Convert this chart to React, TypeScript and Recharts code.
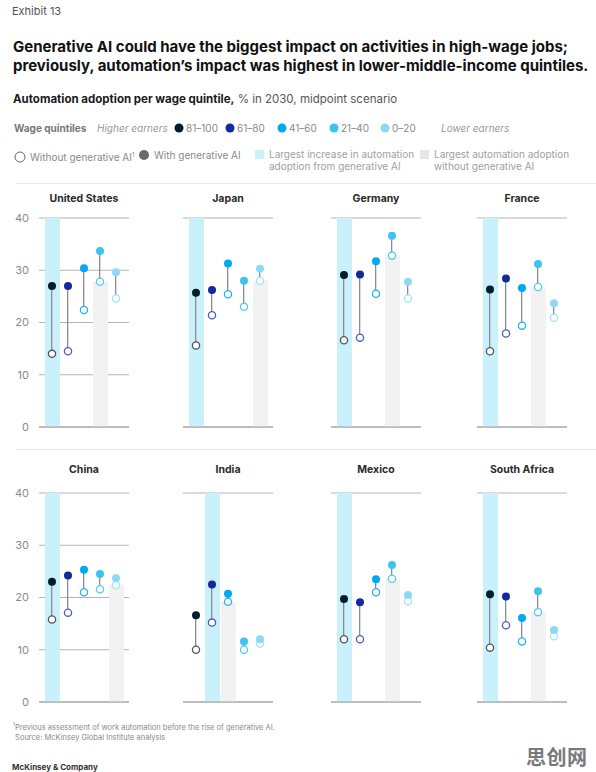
import React from 'react';
import { ComposedChart, Bar, Line, XAxis, YAxis, CartesianGrid, Cell, ReferenceLine } from 'recharts';

// Wage quintiles, highest earners first
const QUINTILES = ['81–100', '61–80', '41–60', '21–40', '0–20'];
const FILL_COLORS = ['#051c2c', '#13299c', '#00a9f4', '#3cc3f0', '#8cd9f6'];
const RING_COLORS = ['#4f5660', '#4e5dbb', '#21b2f0', '#56cbf1', '#a3e2f7'];
const Y_TICKS = [0, 10, 20, 30, 40];

const COUNTRIES = ['United States', 'Japan', 'Germany', 'France', 'China', 'India', 'Mexico', 'South Africa'];

// Automation adoption, % in 2030 (without / with generative AI)
const US_WITHOUT = [14.0, 14.5, 22.4, 27.8, 24.6];
const US_WITH = [27.0, 27.0, 30.4, 33.7, 29.6];
const JAPAN_WITHOUT = [15.6, 21.4, 25.4, 23.0, 28.0];
const JAPAN_WITH = [25.7, 26.2, 31.3, 28.0, 30.3];
const GERMANY_WITHOUT = [16.6, 17.1, 25.5, 32.8, 24.6];
const GERMANY_WITH = [29.1, 29.2, 31.7, 36.6, 27.8];
const FRANCE_WITHOUT = [14.5, 17.9, 19.4, 26.8, 20.9];
const FRANCE_WITH = [26.3, 28.4, 26.6, 31.2, 23.7];
const CHINA_WITHOUT = [15.8, 17.1, 21.0, 21.6, 22.4];
const CHINA_WITH = [23.0, 24.2, 25.3, 24.5, 23.7];
const INDIA_WITHOUT = [10.0, 15.2, 19.2, 10.0, 11.2];
const INDIA_WITH = [16.6, 22.5, 20.7, 11.6, 12.0];
const MEXICO_WITHOUT = [12.0, 12.0, 21.0, 23.6, 19.3];
const MEXICO_WITH = [19.7, 19.1, 23.5, 26.2, 20.5];
const SOUTH_AFRICA_WITHOUT = [10.4, 14.7, 11.6, 17.2, 12.6];
const SOUTH_AFRICA_WITH = [20.6, 20.2, 16.1, 21.2, 13.8];

// Quintile index of the largest increase from generative AI, and of the largest adoption without it
const LARGEST_INCREASE = [0, 0, 0, 0, 0, 1, 0, 0];
const LARGEST_WITHOUT = [3, 4, 3, 3, 4, 2, 3, 3];

const WITHOUT_SERIES = [US_WITHOUT, JAPAN_WITHOUT, GERMANY_WITHOUT, FRANCE_WITHOUT, CHINA_WITHOUT, INDIA_WITHOUT, MEXICO_WITHOUT, SOUTH_AFRICA_WITHOUT];
const WITH_SERIES = [US_WITH, JAPAN_WITH, GERMANY_WITH, FRANCE_WITH, CHINA_WITH, INDIA_WITH, MEXICO_WITH, SOUTH_AFRICA_WITH];

const FONT = 'Inter, "Liberation Sans", Arial, sans-serif';
const BLUE_BAND = '#c9f0fb';
const GRAY_BAND = '#f2f2f2';

const PLOT_LEFT = [39, 183, 331, 477];
const PLOT_TOP = [218, 493];
const TITLE_TOP = [-17, -21];
const PLOT_W = 90;
const PLOT_H = 209;
const AXIS_W = 30;
const PAD_TOP = 9;
const PAD_BOTTOM = 9;

function buildRows(idx: number) {
  const without = WITHOUT_SERIES[idx];
  const withAi = WITH_SERIES[idx];
  return QUINTILES.map((q, i) => {
    let band = 0;
    let bandKind = '';
    if (i === LARGEST_INCREASE[idx]) {
      band = 40;
      bandKind = 'blue';
    } else if (i === LARGEST_WITHOUT[idx]) {
      band = without[i];
      bandKind = 'gray';
    }
    return { q, without: without[i], withAi: withAi[i], span: [without[i], withAi[i]], band, bandKind };
  });
}

const openDot = (props: any) => {
  const { cx, cy, index } = props;
  if (cx == null || cy == null) return <g key={`o-${index}`} />;
  return <circle key={`o-${index}`} cx={cx} cy={cy} r={3.6} fill="#ffffff" stroke={RING_COLORS[index]} strokeWidth={1.3} />;
};

const filledDot = (props: any) => {
  const { cx, cy, index } = props;
  if (cx == null || cy == null) return <g key={`f-${index}`} />;
  return <circle key={`f-${index}`} cx={cx} cy={cy} r={4} fill={FILL_COLORS[index]} />;
};

function Panel({ idx }: { idx: number }) {
  const col = idx % 4;
  const row = Math.floor(idx / 4);
  const rows = buildRows(idx);
  const left = PLOT_LEFT[col] - AXIS_W;
  const top = PLOT_TOP[row] - PAD_TOP;
  return (
    <div style={{ position: 'absolute', left, top }}>
      <div
        style={{
          position: 'absolute',
          left: AXIS_W,
          width: PLOT_W,
          top: TITLE_TOP[row],
          textAlign: 'center',
          fontWeight: 700,
          fontSize: 10.5,
          color: '#2a2a2a',
          whiteSpace: 'nowrap',
        }}
      >
        {COUNTRIES[idx]}
      </div>
      <ComposedChart
        width={AXIS_W + PLOT_W + 5}
        height={PLOT_H + PAD_TOP + PAD_BOTTOM}
        data={rows}
        margin={{ top: PAD_TOP, right: 5, bottom: PAD_BOTTOM, left: 0 }}
      >
        <CartesianGrid horizontal vertical={false} stroke="#b4b4b4" strokeWidth={1} />
        <XAxis dataKey="q" type="category" hide padding={{ left: 5, right: 5 }} />
        <XAxis xAxisId="c" dataKey="q" type="category" hide padding={{ left: 5, right: 5 }} />
        <YAxis
          type="number"
          domain={[0, 40]}
          ticks={Y_TICKS}
          interval={0}
          width={AXIS_W}
          axisLine={false}
          tickLine={false}
          tickMargin={4}
          tick={col === 0 ? { fill: '#8a8a8a', fontSize: 11, fontFamily: FONT } : false}
        />
        <Bar dataKey="band" barSize={15} isAnimationActive={false}>
          {rows.map((r, i) => (
            <Cell key={`b-${i}`} fill={r.bandKind === 'blue' ? BLUE_BAND : GRAY_BAND} />
          ))}
        </Bar>
        <ReferenceLine y={0} stroke="#a0a0a0" strokeWidth={1} />
        <Bar xAxisId="c" dataKey="span" barSize={1.3} fill="#8c8c8c" isAnimationActive={false} />
        <Line dataKey="without" stroke="none" dot={openDot} activeDot={false} isAnimationActive={false} />
        <Line dataKey="withAi" stroke="none" dot={filledDot} activeDot={false} isAnimationActive={false} />
      </ComposedChart>
    </div>
  );
}

const legendText: React.CSSProperties = { position: 'absolute', fontSize: 10, color: '#8a8a8a', whiteSpace: 'nowrap', lineHeight: '12px' };

export default function App() {
  return (
    <div style={{ position: 'absolute', left: 0, top: 0, width: 596, height: 772, background: '#ffffff', fontFamily: FONT, overflow: 'hidden' }}>
      <div style={{ position: 'absolute', left: 12, top: 4, fontSize: 11, color: '#555555' }}>Exhibit 13</div>
      <div style={{ position: 'absolute', left: 13, top: 37, fontSize: 15, fontWeight: 700, color: '#111111', lineHeight: '19px', whiteSpace: 'nowrap' }}>
        Generative AI could have the biggest impact on activities in high-wage jobs;
        <br />
        previously, automation’s impact was highest in lower-middle-income quintiles.
      </div>
      <div style={{ position: 'absolute', left: 13, top: 92, fontSize: 11.5, color: '#555555', whiteSpace: 'nowrap' }}>
        <span style={{ fontWeight: 700, color: '#1a1a1a' }}>Automation adoption per wage quintile,</span> % in 2030, midpoint scenario
      </div>

      {/* legend: wage quintiles */}
      <div style={{ ...legendText, left: 14, top: 122, fontWeight: 700, color: '#777777' }}>Wage quintiles</div>
      <div style={{ ...legendText, left: 97, top: 122, fontStyle: 'italic', color: '#999999' }}>Higher earners</div>
      {QUINTILES.map((q, i) => (
        <div key={q} style={{ ...legendText, left: [174, 225, 277, 329, 380][i], top: 122, color: '#8a8a8a' }}>
          <svg width={10} height={10} style={{ verticalAlign: '-1px', marginRight: 2 }}>
            <circle cx={5} cy={5} r={4.5} fill={FILL_COLORS[i]} />
          </svg>
          {q}
        </div>
      ))}
      <div style={{ ...legendText, left: 441, top: 122, fontStyle: 'italic', color: '#999999' }}>Lower earners</div>

      {/* legend: marker meaning */}
      <div style={{ ...legendText, left: 14, top: 149 }}>
        <svg width={12} height={12} style={{ verticalAlign: '-2px', marginRight: 4 }}>
          <circle cx={6} cy={6} r={5} fill="#ffffff" stroke="#666666" strokeWidth={1} />
        </svg>
        Without generative AI<sup style={{ fontSize: 6 }}>1</sup>
      </div>
      <div style={{ ...legendText, left: 138, top: 149 }}>
        <svg width={12} height={12} style={{ verticalAlign: '-2px', marginRight: 4 }}>
          <circle cx={6} cy={6} r={5} fill="#6a6a6a" />
        </svg>
        With generative AI
      </div>
      <div style={{ position: 'absolute', left: 255, top: 150, width: 9, height: 9, background: BLUE_BAND }} />
      <div style={{ ...legendText, left: 269, top: 148, color: '#a0a0a0' }}>
        Largest increase in automation
        <br />
        adoption from generative AI
      </div>
      <div style={{ position: 'absolute', left: 420, top: 150, width: 9, height: 9, background: '#e6e6e6' }} />
      <div style={{ ...legendText, left: 434, top: 148, color: '#a0a0a0' }}>
        Largest automation adoption
        <br />
        without generative AI
      </div>

      {/* row separators */}
      <div style={{ position: 'absolute', left: 16, top: 183, width: 580, height: 1, background: '#e8e8e8' }} />
      <div style={{ position: 'absolute', left: 16, top: 449, width: 580, height: 1, background: '#e8e8e8' }} />

      {COUNTRIES.map((c, i) => (
        <Panel key={c} idx={i} />
      ))}

      <div style={{ position: 'absolute', left: 13, top: 719, fontSize: 7.5, color: '#8a8a8a', lineHeight: '10px', whiteSpace: 'nowrap' }}>
        <sup style={{ fontSize: 5 }}>1</sup>Previous assessment of work automation before the rise of generative AI.
        <br />
        &nbsp;Source: McKinsey Global Institute analysis
      </div>
      <div style={{ position: 'absolute', left: 12, top: 762, fontSize: 8, fontWeight: 700, color: '#333333', whiteSpace: 'nowrap' }}>McKinsey &amp; Company</div>
      <div style={{ position: 'absolute', left: 526, top: 742, fontSize: 20, fontWeight: 700, color: '#7a7a7a', fontFamily: '"Noto Sans CJK SC", sans-serif', letterSpacing: 0.5 }}>思创网</div>
    </div>
  );
}
